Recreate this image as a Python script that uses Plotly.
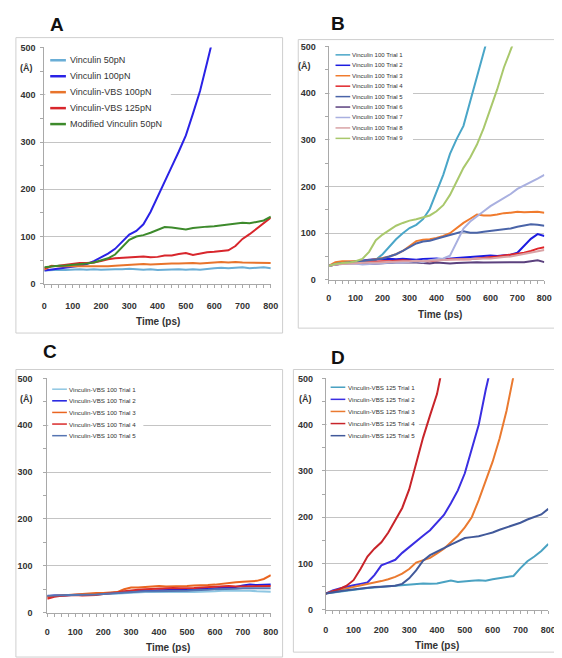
import plotly.graph_objects as go

W, H = 562, 658

# ---------------- data ----------------
time_ps = list(range(0, 801, 25))

# Panel A
a_names = ["Vinculin 50pN", "Vinculin 100pN", "Vinculin-VBS 100pN",
           "Vinculin-VBS 125pN", "Modified Vinculin 50pN"]
a_vinc50 = [28, 29, 30, 29, 30, 31, 30, 31, 30, 31, 31, 31, 32, 31, 30, 31, 29,
            30, 31, 31, 30, 31, 30, 32, 33, 34, 33, 34, 35, 33, 34, 35, 33]
a_vinc100 = [28, 30, 32, 33, 36, 38, 42, 48, 56, 64, 74, 90, 104, 112, 126, 152,
             185, 215, 248, 280, 314, 360, 408, 468, 530]
a_vbs100 = [30, 38, 37, 37, 36, 37, 36, 36, 37, 37, 38, 39, 40, 41, 42, 41, 42,
            42, 43, 43, 44, 44, 43, 44, 45, 46, 45, 46, 45, 45, 45, 44, 44]
a_vbs125 = [33, 37, 38, 40, 42, 44, 44, 45, 48, 52, 54, 55, 55, 57, 58, 56, 57,
            60, 60, 63, 65, 61, 64, 67, 68, 69, 71, 80, 95, 105, 117, 127, 140]
a_mod50 = [35, 37, 38, 39, 40, 41, 43, 45, 49, 54, 62, 78, 93, 100, 103, 108, 114,
           120, 119, 117, 115, 118, 120, 121, 122, 124, 125, 127, 129, 128, 131, 134, 142]

# Panel B
b_names = ["Vinculin 100 Trial %d" % i for i in range(1, 10)]
b_t1 = [30, 33, 35, 36, 38, 40, 42, 43, 55, 71, 87, 100, 111, 118, 130, 152, 190,
        225, 270, 302, 330, 382, 430, 488, 540]
b_t2 = [30, 34, 36, 38, 40, 42, 43, 44, 45, 45, 44, 45, 44, 43, 45, 46, 46, 44,
        46, 47, 48, 49, 50, 51, 52, 51, 52, 54, 58, 72, 88, 98, 94]
b_t3 = [30, 38, 40, 40, 40, 40, 42, 44, 47, 50, 55, 62, 72, 83, 86, 87, 90, 94,
        100, 112, 122, 131, 140, 138, 138, 140, 143, 144, 146, 145, 146, 146, 144]
b_t4 = [30, 33, 35, 36, 37, 38, 38, 39, 40, 40, 41, 42, 41, 40, 39, 40, 42, 43,
        44, 44, 45, 44, 46, 47, 48, 50, 52, 54, 56, 58, 62, 67, 70]
b_t5 = [30, 34, 36, 37, 38, 40, 42, 44, 46, 50, 55, 62, 70, 78, 82, 84, 88, 92,
        96, 100, 104, 101, 101, 103, 105, 106, 108, 110, 114, 117, 119, 118, 116]
b_t6 = [30, 33, 35, 36, 36, 35, 34, 35, 36, 36, 37, 37, 38, 37, 36, 35, 37, 36,
        35, 36, 37, 38, 38, 37, 37, 38, 38, 37, 37, 38, 40, 42, 38]
b_t7 = [30, 33, 34, 35, 35, 33, 34, 35, 36, 37, 38, 37, 38, 40, 38, 42, 44, 46,
        52, 80, 110, 125, 137, 147, 158, 167, 176, 184, 195, 202, 210, 217, 225]
b_t8 = [30, 33, 34, 35, 36, 36, 37, 37, 38, 38, 39, 40, 40, 41, 40, 41, 42, 42,
        43, 44, 44, 45, 45, 46, 46, 48, 49, 50, 53, 55, 58, 61, 64]
b_t9 = [30, 34, 36, 37, 40, 45, 60, 85, 97, 107, 116, 122, 127, 130, 134, 138,
        147, 160, 182, 210, 240, 262, 290, 325, 365, 408, 455, 495, 530]

# Panel C
c_names = ["Vinculin-VBS 100 Trial %d" % i for i in range(1, 6)]
c_t1 = [35, 36, 37, 38, 38, 38, 39, 39, 40, 40, 41, 42, 43, 43, 44, 44, 44, 43,
        44, 45, 44, 44, 45, 45, 46, 47, 47, 48, 48, 47, 46, 46, 45]
c_t2 = [35, 37, 37, 38, 38, 39, 39, 40, 40, 41, 42, 44, 46, 46, 47, 47, 48, 48,
        49, 49, 50, 50, 51, 51, 52, 53, 54, 55, 58, 60, 59, 60, 60]
c_t3 = [33, 36, 37, 38, 40, 41, 42, 42, 42, 43, 44, 50, 54, 54, 55, 56, 57, 56,
        56, 57, 57, 58, 58, 59, 60, 62, 64, 65, 66, 67, 68, 72, 80]
c_t4 = [30, 34, 36, 37, 38, 37, 37, 38, 40, 41, 43, 46, 48, 49, 50, 51, 52, 53,
        53, 52, 52, 53, 54, 55, 55, 56, 57, 56, 56, 56, 56, 57, 57]
c_t5 = [36, 37, 37, 38, 38, 38, 39, 39, 40, 41, 42, 44, 45, 45, 46, 46, 46, 46,
        47, 46, 47, 48, 48, 49, 50, 50, 51, 51, 52, 52, 52, 53, 52]

# Panel D
d_names = ["Vinculin-VBS 125 Trial %d" % i for i in range(1, 6)]
d_t1 = [35, 37, 40, 42, 44, 46, 47, 48, 50, 51, 52, 53, 55, 56, 57, 56, 57, 60,
        63, 60, 62, 63, 64, 63, 66, 68, 70, 73, 90, 105, 115, 127, 142]
d_t2 = [35, 42, 46, 50, 53, 56, 59, 75, 96, 102, 108, 123, 136, 148, 160, 172,
        188, 205, 230, 258, 295, 350, 400, 475, 540]
d_t3 = [35, 40, 43, 46, 49, 52, 55, 58, 62, 66, 71, 78, 88, 102, 107, 112, 122,
        132, 146, 160, 178, 200, 237, 278, 320, 370, 430, 505]
d_t4 = [35, 40, 45, 52, 64, 88, 115, 132, 146, 167, 192, 220, 260, 315, 372,
        420, 466, 540]
d_t5 = [35, 38, 40, 42, 44, 46, 48, 49, 50, 51, 52, 56, 68, 85, 106, 118, 125,
        133, 141, 148, 155, 157, 159, 163, 167, 173, 178, 182, 188, 195, 200, 206, 218]

y_ticks = [0, 100, 200, 300, 400, 500]
x_ticks = [0, 100, 200, 300, 400, 500, 600, 700, 800]

# ---------------- styling ----------------
a_colors = ["#6aaed6", "#2a22e6", "#e8742c", "#d8262c", "#3d8a2c"]
b_colors = ["#4aa6c8", "#1c1ce0", "#f07b2e", "#e0262a", "#4a64a8",
            "#5b417e", "#a9b0e0", "#d9a3a6", "#a9c86c"]
c_colors = ["#8ec6e2", "#1c1ce0", "#ea6520", "#d92a2a", "#5575b2"]
d_colors = ["#4aa2c2", "#3a2ee2", "#ea7a30", "#c8242a", "#41599a"]

panels = [
    dict(letter="A", names=a_names, series=[a_vinc50, a_vinc100, a_vbs100, a_vbs125, a_mod50],
         colors=a_colors, ax="", px=(34, 265), py=(35, 275), frame=(5, 25, 277, 325),
         letter_pos=(47, 12), ang_pos=(16, 56), title_pos=(150, 313),
         leg=dict(x0=40, x1=56, tx=58, y0=48, dy=16.2, fs=9, box=(35, 38, 163, 122), lw=2.5),
         xs=10, ys=3),
    dict(letter="B", names=b_names, series=[b_t1, b_t2, b_t3, b_t4, b_t5, b_t6, b_t7, b_t8, b_t9],
         colors=b_colors, ax="2", px=(324, 544), py=(34, 271), frame=(293, 27, 558, 320),
         letter_pos=(334, 11), ang_pos=(299, 54), title_pos=(438, 306),
         leg=dict(x0=331, x1=346, tx=346, y0=42.5, dy=10.6, fs=6, box=(325, 36, 410, 133), lw=1.5),
         xs=6, ys=7),
    dict(letter="C", names=c_names, series=[c_t1, c_t2, c_t3, c_t4, c_t5],
         colors=c_colors, ax="3", px=(37, 265), py=(371, 609), frame=(5, 362, 277, 654),
         letter_pos=(40, 344), ang_pos=(16, 392), title_pos=(160, 644),
         leg=dict(x0=42, x1=57, tx=57, y0=382, dy=11.8, fs=6.2, box=(38, 374, 135, 437), lw=1.5),
         xs=7, ys=9),
    dict(letter="D", names=d_names, series=[d_t1, d_t2, d_t3, d_t4, d_t5],
         colors=d_colors, ax="4", px=(321, 548), py=(371, 606), frame=(288, 362, 558, 649),
         letter_pos=(334, 350), ang_pos=(300, 392), title_pos=(434, 642),
         leg=dict(x0=326, x1=341, tx=342, y0=380, dy=12.3, fs=6.2, box=(322, 373, 416, 437), lw=1.5),
         xs=8, ys=7),
]


def fx(x):
    return x / W


def fy(y):
    return 1 - y / H


FONT = "Arial"
fig = go.Figure()
shapes = []
annotations = []
layout = dict(width=W, height=H, margin=dict(l=0, r=0, t=0, b=0),
              paper_bgcolor="white", plot_bgcolor="white", showlegend=False,
              font=dict(family=FONT, color="#333333"))

for p in panels:
    ax = p["ax"]
    xname = "xaxis" + ax
    yname = "yaxis" + ax
    xid = "x" + ax
    yid = "y" + ax
    for name, vals, col in zip(p["names"], p["series"], p["colors"]):
        fig.add_trace(go.Scatter(x=time_ps[:len(vals)], y=vals, mode="lines", name=name,
                                 line=dict(color=col, width=2), xaxis=xid, yaxis=yid,
                                 showlegend=False))
    layout[xname] = dict(domain=[fx(p["px"][0]), fx(p["px"][1])], anchor=yid,
                         range=[0, 800], tickvals=x_ticks, showgrid=False,
                         showline=True, linecolor="#a9a9a9", linewidth=1,
                         ticks="outside", ticklen=3, tickcolor="#a9a9a9",
                         minor=dict(ticks="outside", dtick=25, tick0=0, ticklen=3,
                                    tickcolor="#a9a9a9", showgrid=False),
                         tickfont=dict(family=FONT, size=9, color="#333333", weight="bold"),
                         ticklabelstandoff=p["xs"], zeroline=False, fixedrange=True)
    layout[yname] = dict(domain=[fy(p["py"][1]), fy(p["py"][0])], anchor=xid,
                         range=[0, 500], tickvals=y_ticks, showgrid=True,
                         gridcolor="#c4c4c4", gridwidth=1,
                         showline=True, linecolor="#a9a9a9", linewidth=1,
                         ticks="outside", ticklen=3, tickcolor="#a9a9a9",
                         minor=dict(ticks="outside", dtick=50, tick0=0, ticklen=3,
                                    tickcolor="#a9a9a9", showgrid=False),
                         tickfont=dict(family=FONT, size=9, color="#333333", weight="bold"),
                         ticklabelstandoff=p["ys"], zeroline=False, fixedrange=True)

    # panel frame
    x0, y0, x1, y1 = p["frame"]
    shapes.append(dict(type="rect", xref="paper", yref="paper",
                       x0=fx(x0), x1=fx(x1), y0=fy(y1), y1=fy(y0),
                       line=dict(color="#cfcfcf", width=1), fillcolor="rgba(0,0,0,0)",
                       layer="above"))
    # legend box
    lg = p["leg"]
    bx0, by0, bx1, by1 = lg["box"]
    shapes.append(dict(type="rect", xref="paper", yref="paper",
                       x0=fx(bx0), x1=fx(bx1), y0=fy(by1), y1=fy(by0),
                       line=dict(width=0), fillcolor="white", layer="above"))
    for i, (name, col) in enumerate(zip(p["names"], p["colors"])):
        yy = lg["y0"] + i * lg["dy"]
        shapes.append(dict(type="line", xref="paper", yref="paper",
                           x0=fx(lg["x0"]), x1=fx(lg["x1"]), y0=fy(yy), y1=fy(yy),
                           line=dict(color=col, width=lg["lw"]), layer="above"))
        annotations.append(dict(text=name, xref="paper", yref="paper",
                                x=fx(lg["tx"]), y=fy(yy), xanchor="left", yanchor="middle",
                                showarrow=False,
                                font=dict(family=FONT, size=lg["fs"], color="#333333")))
    # panel letter
    annotations.append(dict(text="<b>%s</b>" % p["letter"], xref="paper", yref="paper",
                            x=fx(p["letter_pos"][0]), y=fy(p["letter_pos"][1]),
                            xanchor="center", yanchor="middle", showarrow=False,
                            font=dict(family=FONT, size=19, color="#111111")))
    # unit label
    annotations.append(dict(text="<b>(Å)</b>", xref="paper", yref="paper",
                            x=fx(p["ang_pos"][0]), y=fy(p["ang_pos"][1]),
                            xanchor="center", yanchor="middle", showarrow=False,
                            font=dict(family=FONT, size=9, color="#333333")))
    # x-axis title
    annotations.append(dict(text="<b>Time (ps)</b>", xref="paper", yref="paper",
                            x=fx(p["title_pos"][0]), y=fy(p["title_pos"][1]),
                            xanchor="center", yanchor="middle", showarrow=False,
                            font=dict(family=FONT, size=10, color="#333333")))

layout["shapes"] = shapes
layout["annotations"] = annotations
fig.update_layout(**layout)
fig.write_html("out.html")
